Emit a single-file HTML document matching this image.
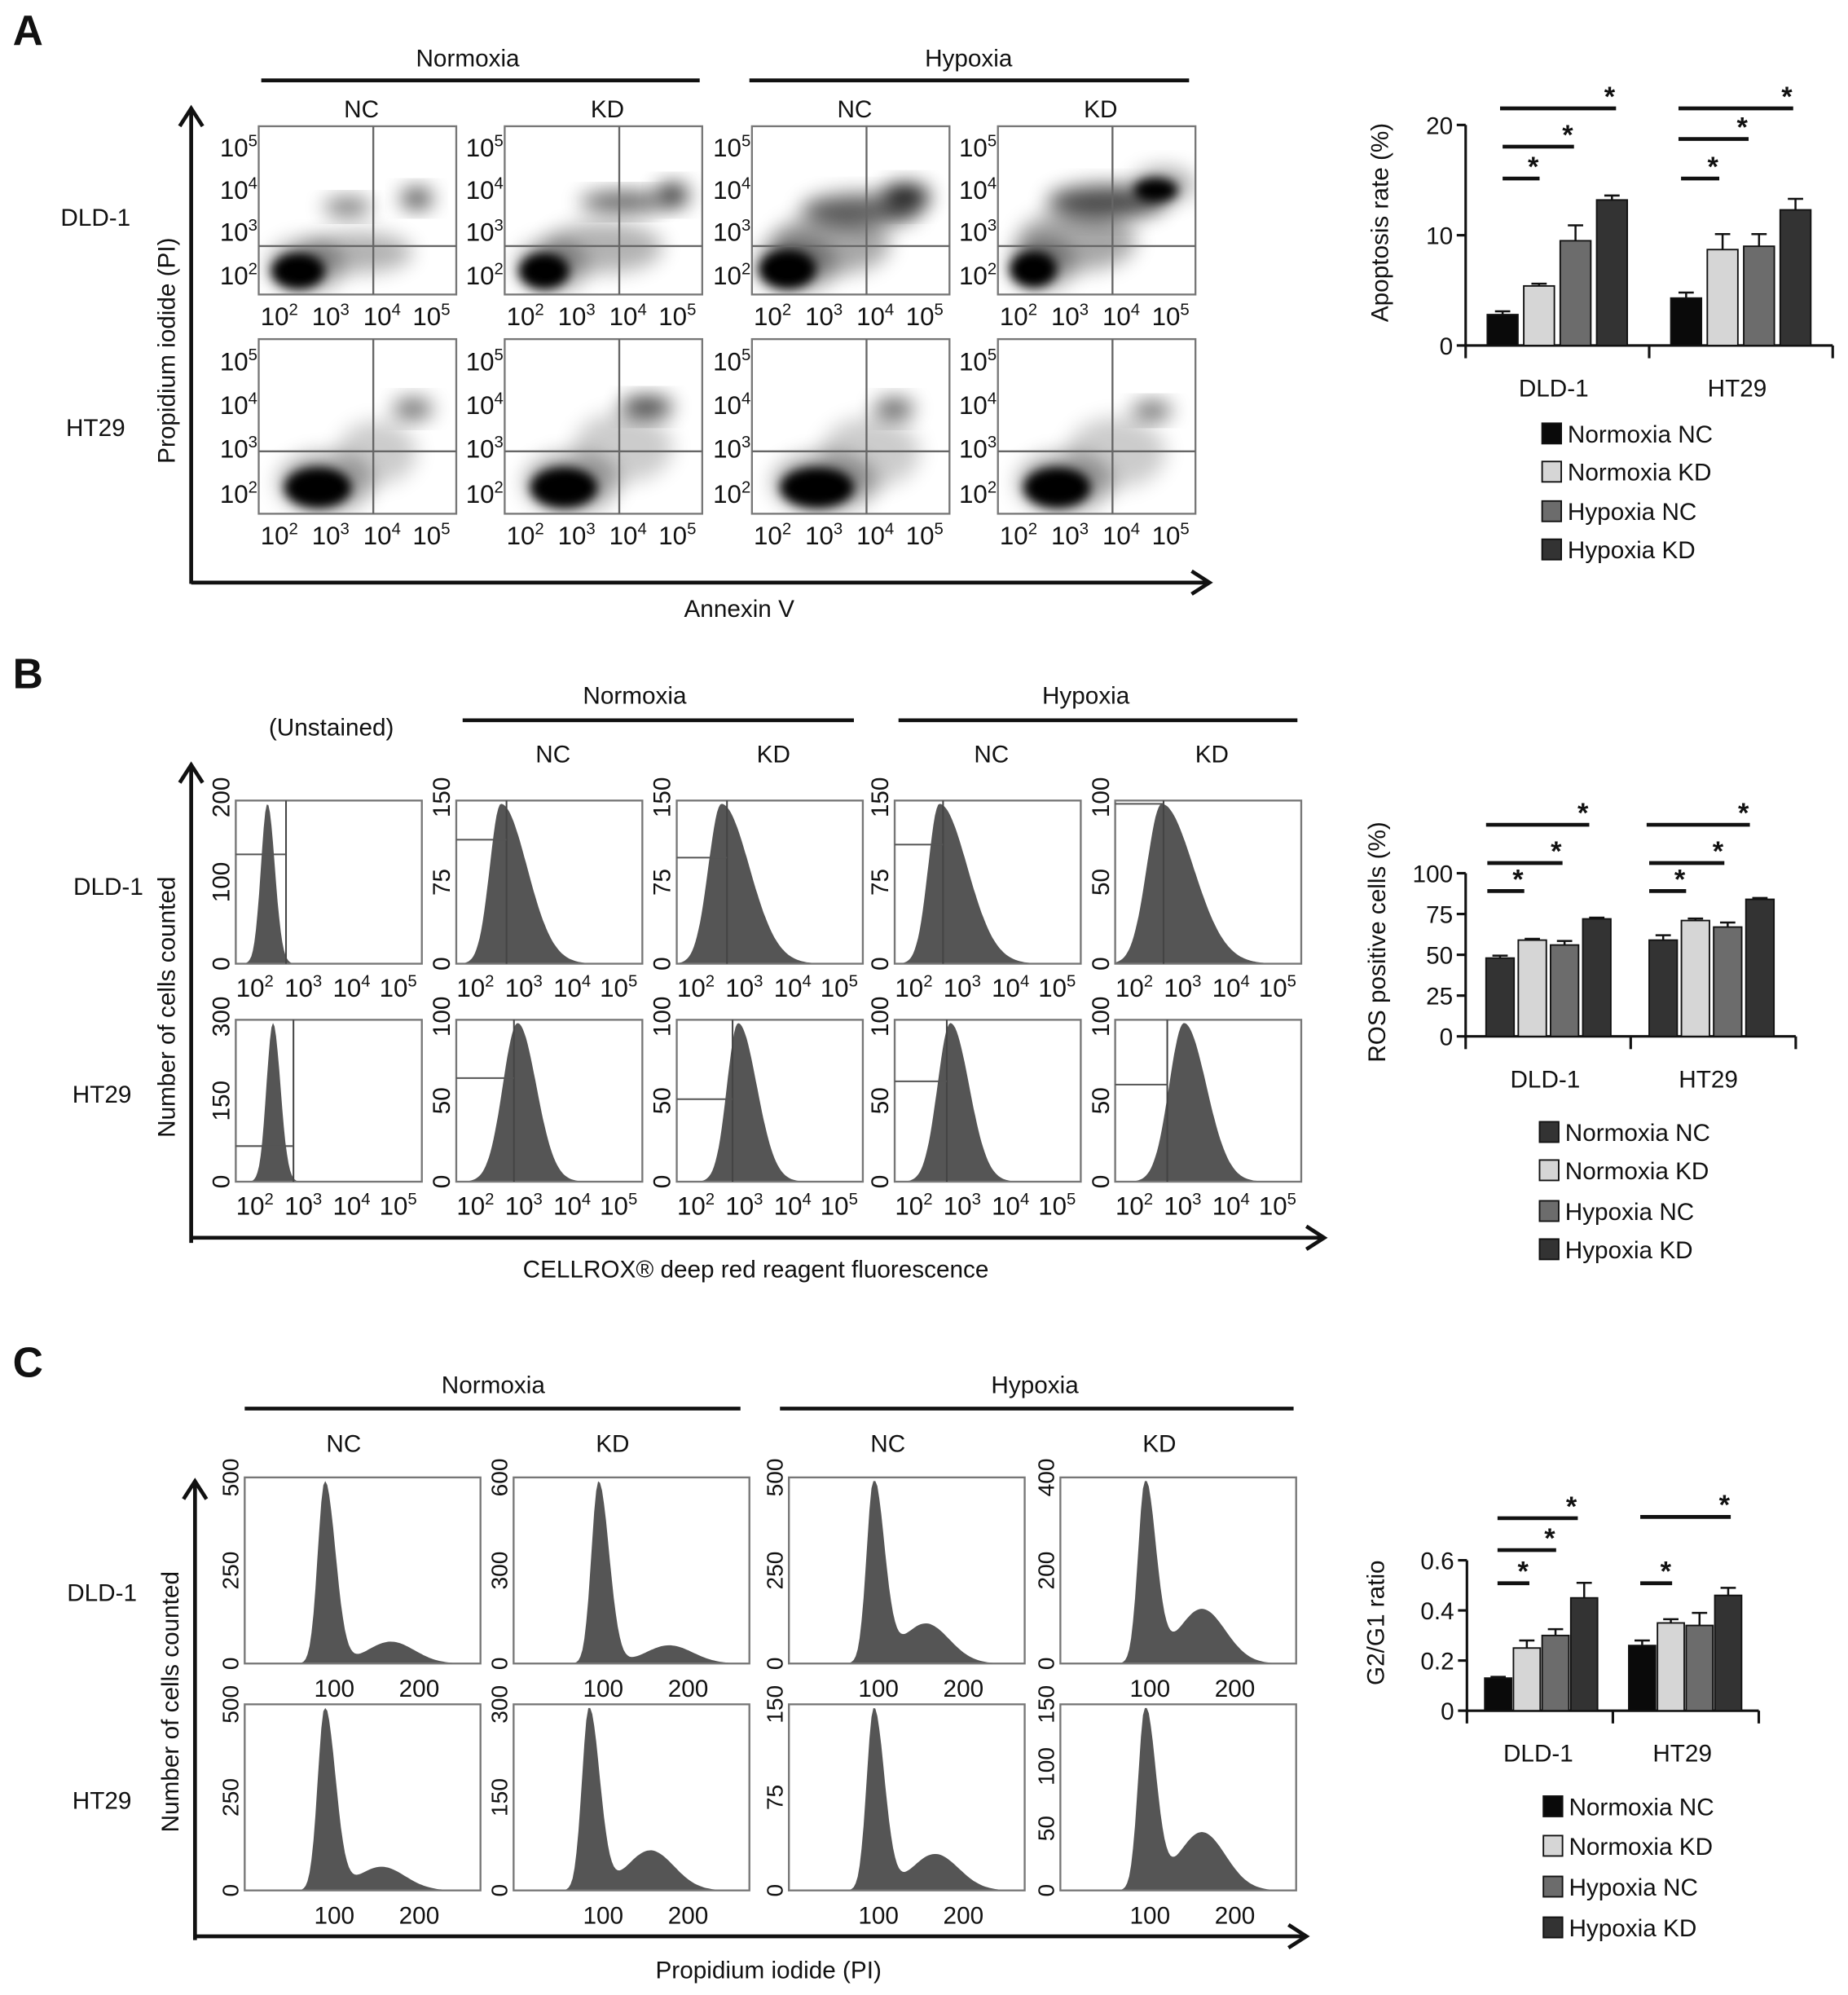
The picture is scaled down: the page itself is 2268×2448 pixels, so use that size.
<!DOCTYPE html>
<html><head><meta charset="utf-8"><style>
html,body{margin:0;padding:0;background:#fff;}
svg{display:block;font-family:"Liberation Sans",Arial,sans-serif;}
</style></head><body>
<svg id="fig" xmlns="http://www.w3.org/2000/svg" width="2268" height="2448" viewBox="0 0 1450 1565">
<defs>
<filter id="blur3" x="-50%" y="-50%" width="200%" height="200%"><feGaussianBlur stdDeviation="4"/></filter>
<filter id="blur8" x="-50%" y="-50%" width="200%" height="200%"><feGaussianBlur stdDeviation="8"/></filter>
</defs>
<g id="root"></g>
</svg>
<script>
// ---------- Bar chart data ----------
const groups = ['DLD-1','HT29'];
const seriesNames = ['Normoxia NC','Normoxia KD','Hypoxia NC','Hypoxia KD'];
const apoDLD = [2.8, 5.4, 9.5, 13.2];
const apoHT = [4.3, 8.7, 9.0, 12.3];
const apoErrDLD = [0.3, 0.2, 1.4, 0.4];
const apoErrHT = [0.5, 1.4, 1.1, 1.0];
const apoTicks = [0, 10, 20];
const rosDLD = [48, 59, 56, 72];
const rosHT = [59, 71, 67, 84];
const rosErrDLD = [1.5, 0.8, 2.5, 0.8];
const rosErrHT = [3.0, 1.2, 2.8, 0.8];
const rosTicks = [0, 25, 50, 75, 100];
const g2DLD = [0.13, 0.25, 0.30, 0.45];
const g2HT = [0.26, 0.35, 0.34, 0.46];
const g2ErrDLD = [0.005, 0.03, 0.025, 0.06];
const g2ErrHT = [0.02, 0.015, 0.05, 0.03];
const g2Ticks = [0, 0.2, 0.4, 0.6];

const NS = 'http://www.w3.org/2000/svg';
const root = document.getElementById('root');
function el(tag, attrs, parent, text){
  const e = document.createElementNS(NS, tag);
  for (const k in attrs) e.setAttribute(k, attrs[k]);
  if (text !== undefined) e.textContent = text;
  (parent || root).appendChild(e);
  return e;
}
function txt(x, y, s, size, parent, anchor, extra){
  return el('text', Object.assign({x:x, y:y, 'font-size':size, 'text-anchor':anchor||'middle', fill:'#111'}, extra||{}), parent, s);
}
function line(x1,y1,x2,y2,w,parent,col){
  return el('line',{x1:x1,y1:y1,x2:x2,y2:y2,stroke:col||'#111','stroke-width':w||1},parent);
}
function arrowV(x,yb,yt,parent){ line(x,yb,x,yt,3,parent); el('path',{d:`M${x-9},${yt+14} L${x},${yt} L${x+9},${yt+14}`,fill:'none',stroke:'#111','stroke-width':3},parent); }
function arrowH(xl,y,xr,parent){ line(xl,y,xr,y,3,parent); el('path',{d:`M${xr-14},${y-9} L${xr},${y} L${xr-14},${y+9}`,fill:'none',stroke:'#111','stroke-width':3},parent); }
function supLabel(x,y,exp,size,parent,anchor){
  const t = el('text',{x:x,y:y,'font-size':size,'text-anchor':anchor||'middle',fill:'#111'},parent);
  const a = document.createElementNS(NS,'tspan'); a.textContent='10'; t.appendChild(a);
  const b = document.createElementNS(NS,'tspan'); b.setAttribute('dy',-size*0.4); b.setAttribute('font-size',size*0.65); b.textContent=exp; t.appendChild(b);
  return t;
}

const letters = [['A',10,35],['B',10,540],['C',10,1080]];
letters.forEach(l=>{
  const t = txt(l[1], l[2], l[0], 33, root, 'start', {'font-weight':'bold'});
  
  
});
function header(parent, items){
  items.forEach(it=>{
    if (it.line) line(it.x1, it.y, it.x2, it.y, 3, parent);
    if (it.t) txt(it.x, it.ty, it.t, 19, parent);
  });
}

// ===================== PANEL A =====================
const gA = el('g',{}, root);


header(gA,[
  {line:1,x1:205,x2:549,y:63,t:'Normoxia',x:367,ty:52},
  {line:1,x1:588,x2:933,y:63,t:'Hypoxia',x:760,ty:52},
]);
const aCols = [203,396,590,783], aW=155;
['NC','KD','NC','KD'].forEach((s,i)=>txt(aCols[i]+aW*0.52, 92, s, 19, gA));
txt(75,177,'DLD-1',19,gA); txt(75,342,'HT29',19,gA);
const aRows = [[99,231,193],[266,403,354]];
const aPops = [
 [[0.2,0.86,0.16,0.12,1],[0.45,0.48,0.12,0.05,0.6],[0.8,0.43,0.08,0.06,0.75],[0.5,0.75,0.28,0.12,0.3]],
 [[0.2,0.86,0.15,0.12,1],[0.6,0.45,0.22,0.06,0.65],[0.85,0.41,0.08,0.07,0.85],[0.5,0.72,0.3,0.15,0.3]],
 [[0.18,0.85,0.17,0.13,1],[0.55,0.5,0.3,0.1,0.6],[0.78,0.42,0.12,0.08,0.9],[0.4,0.7,0.3,0.18,0.35]],
 [[0.18,0.85,0.14,0.12,1],[0.55,0.45,0.3,0.1,0.7],[0.8,0.38,0.13,0.08,1],[0.4,0.68,0.3,0.18,0.35]],
 [[0.3,0.85,0.2,0.13,1],[0.78,0.4,0.1,0.06,0.6],[0.6,0.65,0.2,0.18,0.2]],
 [[0.3,0.85,0.2,0.13,1],[0.72,0.39,0.13,0.06,0.8],[0.6,0.62,0.25,0.2,0.2]],
 [[0.33,0.85,0.22,0.13,1],[0.72,0.4,0.1,0.06,0.65],[0.6,0.65,0.25,0.2,0.2]],
 [[0.3,0.85,0.2,0.13,1],[0.78,0.41,0.1,0.05,0.65],[0.6,0.65,0.25,0.2,0.2]],
];
for (let r=0;r<2;r++){
  for (let c=0;c<4;c++){
    const x0=aCols[c], y0=aRows[r][0], y1=aRows[r][1], h=y1-y0;
    const box = el('g',{},gA);
    
    
    const cp = 'clipA'+r+c;
    const cl = el('clipPath',{id:cp},box); el('rect',{x:x0,y:y0,width:aW,height:h},cl);
    const pg = el('g',{'clip-path':`url(#${cp})`},box);
    aPops[r*4+c].forEach(p=>{
      if (p[4]>=1){
        el('ellipse',{cx:x0+p[0]*aW+6,cy:y0+p[1]*h-4,rx:p[2]*aW*1.2,ry:p[3]*h*1.3,fill:'#000',opacity:0.35,filter:'url(#blur8)'},pg);
        el('ellipse',{cx:x0+p[0]*aW,cy:y0+p[1]*h,rx:p[2]*aW*0.85,ry:p[3]*h*0.9,fill:'#000',filter:'url(#blur3)'},pg);
      } else {
        el('ellipse',{cx:x0+p[0]*aW,cy:y0+p[1]*h,rx:p[2]*aW,ry:p[3]*h,fill:'#000',opacity:p[4],filter:'url(#blur8)'},pg);
      }
    });
    el('rect',{x:x0,y:y0,width:aW,height:h,fill:'none',stroke:'#777','stroke-width':1.5},box);
    line(x0+aW*0.58,y0,x0+aW*0.58,y1,1.5,box,'#666');
    line(x0,aRows[r][2],x0+aW,aRows[r][2],1.5,box,'#666');
    const xf=[0.13,0.39,0.65,0.9];
    ['2','3','4','5'].forEach((e,i)=>supLabel(x0+xf[i]*aW-4,y1+24,e,20,box));
    const yf=[0.12,0.37,0.62,0.88];
    ['5','4','3','2'].forEach((e,i)=>supLabel(x0-1,y0+yf[i]*h+8,e,20,box,'end'));
  }
}
arrowV(150,458,85,gA); arrowH(150,457,949,gA);
const ylabA = txt(0,0,'Propidium iodide (PI)',19,gA,'middle',{transform:'translate(137,275) rotate(-90)'});
 
const xlabA = txt(580,484,'Annexin V',19,gA);
 

// ===================== PANEL B =====================
const gB = el('g',{}, root);


header(gB,[
  {line:1,x1:363,x2:670,y:565,t:'Normoxia',x:498,ty:552},
  {line:1,x1:705,x2:1018,y:565,t:'Hypoxia',x:852,ty:552},
]);
txt(260,577,'(Unstained)',19,gB);
const bCols=[185,358,531,702,875], bW=146;
['NC','KD','NC','KD'].forEach((s,i)=>txt(bCols[i+1]+bW*0.52,598,s,19,gB));
txt(85,702,'DLD-1',19,gB); txt(80,865,'HT29',19,gB);
const bRows=[[628,756],[800,927]];
const bShapes=[
 [0.17,0.035,0.04,0.27,0.33,0],[0.24,0.06,0.14,0.27,0.24,0.3],[0.24,0.07,0.15,0.27,0.35,0.3],[0.24,0.06,0.15,0.26,0.27,0.3],[0.25,0.08,0.17,0.26,0.02,0.2],
 [0.2,0.035,0.04,0.31,0.78,0],[0.33,0.08,0.1,0.31,0.36,0],[0.33,0.06,0.1,0.3,0.49,0],[0.3,0.07,0.1,0.28,0.38,0],[0.37,0.08,0.12,0.28,0.4,0]
];
const bYT=[['0','100','200'],['0','75','150'],['0','75','150'],['0','75','150'],['0','50','100'],['0','150','300'],['0','50','100'],['0','50','100'],['0','50','100'],['0','50','100']];
function histPath(x0,y0,w,h,f){
  let d=`M${x0},${y0+h}`;
  for(let i=0;i<=120;i++){
    const u=i/120; const s=u<f.p?f.sl:f.sr;
    let v=Math.exp(-Math.pow((u-f.p)/s,2)/2);
    if(f.g2) v+=f.g2*Math.exp(-Math.pow((u-f.p2)/f.s2,2)/2);
    if(f.sh && u>f.p) v=Math.max(v,f.sh*Math.exp(-Math.pow((u-f.p-0.08)/(f.sr*0.8),2)/2)*1.9);
    v=Math.min(v,1);
    d+=` L${(x0+u*w).toFixed(1)},${(y0+h-v*h*0.98).toFixed(1)}`;
  }
  return d+` L${x0+w},${y0+h} Z`;
}
for(let r=0;r<2;r++){
  for(let c=0;c<5;c++){
    const x0=bCols[c],y0=bRows[r][0],y1=bRows[r][1],h=y1-y0,s=bShapes[r*5+c];
    const box=el('g',{},gB);
    
    
    el('path',{d:histPath(x0,y0,bW,h,{p:s[0],sl:s[1],sr:s[2],sh:s[5]}),fill:'#555'},box);
    el('rect',{x:x0,y:y0,width:bW,height:h,fill:'none',stroke:'#777','stroke-width':1.5},box);
    line(x0+s[3]*bW,y0,x0+s[3]*bW,y1,1.3,box,'#444');
    line(x0,y0+s[4]*h,x0+s[3]*bW,y0+s[4]*h,1.3,box,'#555');
    const xf=[0.13,0.39,0.65,0.9];
    ['2','3','4','5'].forEach((e,i)=>supLabel(x0+xf[i]*bW-4,y1+26,e,20,box));
    const yt=bYT[r*5+c];
    yt.forEach((t,i)=>txt(0,0,t,19,box,'middle',{transform:`translate(${x0-5},${y1-i*h/2-(i===2?h*0.02:0)}) rotate(-90)`}));
  }
}
arrowV(150,975,600,gB); arrowH(150,971,1039,gB);
const ylabB=txt(0,0,'Number of cells counted',19,gB,'middle',{transform:'translate(137,790) rotate(-90)'});
 
const xlabB=txt(593,1002,'CELLROX® deep red reagent fluorescence',19,gB);
 

// ===================== PANEL C =====================
const gC = el('g',{}, root);


header(gC,[
  {line:1,x1:192,x2:581,y:1105,t:'Normoxia',x:387,ty:1093},
  {line:1,x1:612,x2:1015,y:1105,t:'Hypoxia',x:812,ty:1093},
]);
const cCols=[192,403,619,832], cW=185;
['NC','KD','NC','KD'].forEach((s,i)=>txt(cCols[i]+cW*0.42,1139,s,19,gC));
txt(80,1256,'DLD-1',19,gC); txt(80,1419,'HT29',19,gC);
const cRows=[[1159,1305],[1337,1483]];
const cShapes=[[0.34,0.12,0.62],[0.36,0.1,0.66],[0.36,0.22,0.58],[0.36,0.3,0.6],[0.34,0.13,0.58],[0.32,0.22,0.58],[0.36,0.2,0.62],[0.36,0.32,0.6]];
const cYT=[['0','250','500'],['0','300','600'],['0','250','500'],['0','200','400'],['0','250','500'],['0','150','300'],['0','75','150'],['0','50','100','150']];
for(let r=0;r<2;r++){
  for(let c=0;c<4;c++){
    const x0=cCols[c],y0=cRows[r][0],y1=cRows[r][1],h=y1-y0,s=cShapes[r*4+c];
    const box=el('g',{},gC);
    
    
    el('path',{d:histPath(x0,y0,cW,h,{p:s[0],sl:0.03,sr:0.045,g2:s[1],p2:s[2],s2:0.1}),fill:'#555'},box);
    el('rect',{x:x0,y:y0,width:cW,height:h,fill:'none',stroke:'#777','stroke-width':1.5},box);
    txt(x0+cW*0.38,y1+26,'100',19,box); txt(x0+cW*0.74,y1+26,'200',19,box);
    const yt=cYT[r*4+c]; const n=yt.length-1;
    yt.forEach((t,i)=>txt(0,0,t,18,box,'middle',{transform:`translate(${x0-5},${y1-i*h/n})rotate(-90)`}));
  }
}
arrowV(153,1522,1162,gC); arrowH(153,1519,1025,gC);
const ylabC=txt(0,0,'Number of cells counted',19,gC,'middle',{transform:'translate(140,1335) rotate(-90)'});
 
const xlabC=txt(603,1552,'Propidium iodide (PI)',19,gC);
 

// ===================== BAR CHARTS =====================
function barChart(cfg){
  const g=el('g',{},root);
  
  
  const yS=v=>cfg.y0-(v/cfg.max)*(cfg.y0-cfg.yTop);
  line(cfg.ax,cfg.y0,cfg.ax,cfg.yTop,2,g);
  line(cfg.ax,cfg.y0,cfg.axEnd,cfg.y0,2,g);
  cfg.ticks.forEach(t=>{ line(cfg.ax-7,yS(t),cfg.ax,yS(t),2,g); txt(cfg.ax-10,yS(t)+7,String(t),19,g,'end'); });
  [cfg.ax,(cfg.ax+cfg.axEnd)/2,cfg.axEnd].forEach(x=>line(x,cfg.y0,x,cfg.y0+10,2,g));
  const yl=txt(0,0,cfg.ylabel,19,g,'middle',{transform:`translate(${cfg.ylx},${(cfg.y0+cfg.yTop)/2-10}) rotate(-90)`});
   
  const data=[[cfg.d1,cfg.e1],[cfg.d2,cfg.e2]];
  data.forEach((dd,gi)=>{
    const start=cfg.starts[gi];
    dd[0].forEach((v,i)=>{
      const x=start+i*cfg.step;
      const b=el('rect',{x:x,y:yS(v),width:cfg.bw,height:cfg.y0-yS(v),fill:cfg.colors[i],stroke:'#111','stroke-width':1.2},g);
      
      
      const ey=yS(v+dd[1][i]);
      line(x+cfg.bw/2,yS(v),x+cfg.bw/2,ey,1.6,g);
      line(x+cfg.bw/2-6,ey,x+cfg.bw/2+6,ey,1.6,g);
    });
    const gl=txt(start+cfg.step*1.5+cfg.bw/2-cfg.step*0.1,cfg.y0+40,groups[gi],19,g);
     
  });
  cfg.sig.forEach(s=>{ line(s[0],s[2],s[1],s[2],3,g); txt(s[1]-5,s[2]-2,'*',22,g,'middle',{'font-weight':'bold'}); });
  seriesNames.forEach((n,i)=>{
    const y=cfg.legY[i];
    const it=el('g',{},g);
    
    
    el('rect',{x:cfg.legX,y:y-8,width:15,height:16,fill:cfg.colors[i],stroke:'#111','stroke-width':1.2},it);
    txt(cfg.legX+20,y+7,n,19,it,'start');
  });
}
barChart({name:'apoptosis-bar-chart',ax:1150,axEnd:1438,y0:271,yTop:98,max:20,ticks:apoTicks,ylabel:'Apoptosis rate (%)',ylx:1089,
  d1:apoDLD,e1:apoErrDLD,d2:apoHT,e2:apoErrHT,starts:[1167,1311],step:28.6,bw:24,colors:['#0a0a0a','#d6d6d6','#6c6c6c','#333'],
  sig:[[1179,1208,140],[1179,1235,115],[1177,1268,85],[1319,1349,140],[1317,1372,109],[1317,1407,85]],legX:1210,legY:[340,370,401,431]});
barChart({name:'ros-bar-chart',ax:1150,axEnd:1409,y0:813,yTop:685,max:100,ticks:rosTicks,ylabel:'ROS positive cells (%)',ylx:1087,
  d1:rosDLD,e1:rosErrDLD,d2:rosHT,e2:rosErrHT,starts:[1166,1294],step:25.3,bw:22,colors:['#333','#d6d6d6','#6c6c6c','#333'],
  sig:[[1167,1196,699],[1167,1226,677],[1166,1247,647],[1294,1323,699],[1294,1353,677],[1292,1373,647]],legX:1208,legY:[888,918,950,980]});
barChart({name:'g2g1-bar-chart',ax:1151,axEnd:1380,y0:1342,yTop:1224,max:0.6,ticks:g2Ticks,ylabel:'G2/G1 ratio',ylx:1086,
  d1:g2DLD,e1:g2ErrDLD,d2:g2HT,e2:g2ErrHT,starts:[1165,1278],step:22.5,bw:21,colors:['#0a0a0a','#d6d6d6','#6c6c6c','#333'],
  sig:[[1175,1200,1242],[1175,1221,1216],[1175,1238,1191],[1287,1312,1242],[1287,1358,1190]],legX:1211,legY:[1417,1448,1480,1512]});
</script>
</body></html>
